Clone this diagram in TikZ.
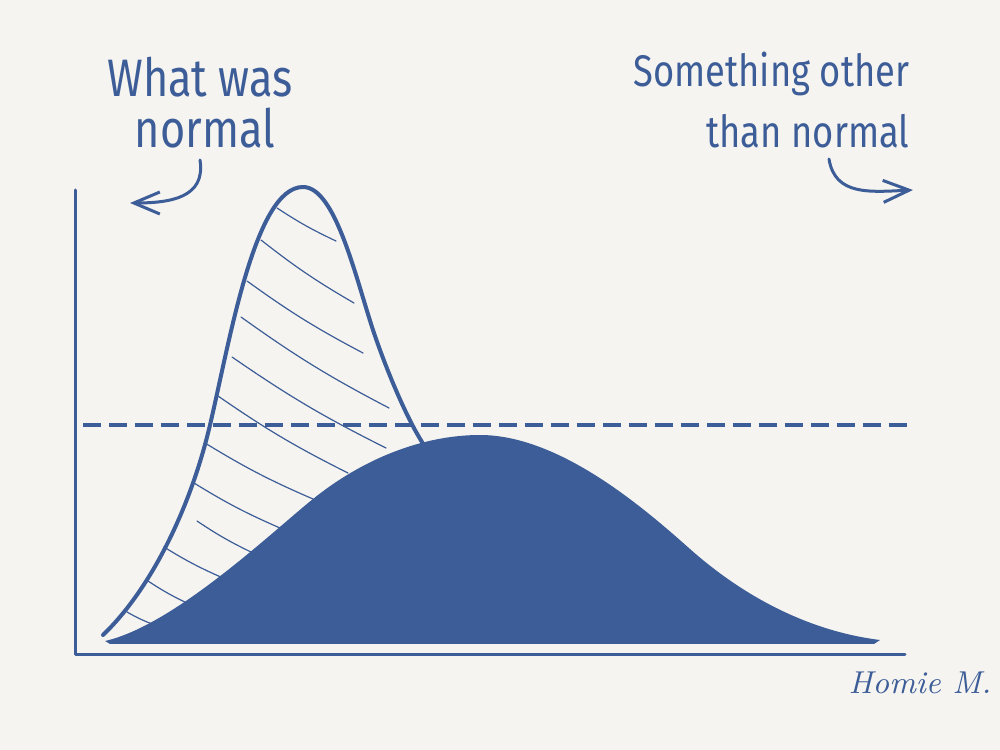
\documentclass[tikz,border=0pt]{standalone}
\usepackage{fontspec}
\usepackage{tikz}
\usetikzlibrary{arrows.meta}
\newfontfamily\handfont[FakeStretch=0.82]{Fira Sans}
\definecolor{Ink}{HTML}{3D5D98}
\definecolor{Paper}{HTML}{F5F4F0}

\begin{document}
\begin{tikzpicture}[x=0.1mm,y=-0.1mm,
    ink/.style={draw=Ink,line cap=round,line join=round},
    curly/.style={ink,line width=0.3mm,-{Straight Barb[length=2.6mm,width=2.2mm]}},
    hand/.style={text=Ink,inner sep=0pt,anchor=base}]
  \useasboundingbox (0,0) rectangle (1000,750);
  \fill[Paper] (0,0) rectangle (1000,750);

  % axes and the old level
  \draw[ink,line width=0.3mm] (75,190) -- (75,655) -- (905,655);
  \draw[Ink,line width=0.4mm,dash pattern=on 1.8mm off 0.8mm] (83,425) -- (913,425);

  % the new, flat curve
  \fill[Ink] (105,641) .. controls (175,625) and (273,531) .. (313,499)
    .. controls (360,461) and (420,435) .. (480,435)
    .. controls (560,435) and (645,509) .. (690,549)
    .. controls (735,589) and (800,630) .. (880,640)
    -- (874,644) -- (110,644) -- cycle;

  % the old, narrow curve
  \draw[ink,line width=0.4mm] (103,635) .. controls (150,590) and (190,510) .. (210,425)
    .. controls (230,340) and (255,187) .. (303,187)
    .. controls (335,187) and (355,275) .. (373,330)
    .. controls (385,366) and (405,415) .. (422,442);
  \foreach \xa/\ya/\xb/\yb in {277/208/336/241, 261/240/354/303, 247/281/363/353,
      241/317/389/408, 232/357/386/448, 218/396/348/473, 205/443/313/499,
      194/483/280/528, 197/521/253/553, 164/547/223/578, 148/581/189/604,
      127/612/152/624}
    \draw[ink,line width=0.12mm] (\xa,\ya) to[bend right=4] (\xb,\yb);

  % labels
  \node[hand,font=\handfont\fontsize{15}{18}\selectfont] (was1) at (200,97) {What was};
  \node[hand,font=\handfont\fontsize{15}{18}\selectfont] (was2) at (205,148) {normal};
  \node[hand,anchor=base east,font=\handfont\fontsize{12.6}{16}\selectfont] (other1) at (910,87) {Something other};
  \node[hand,anchor=base east,font=\handfont\fontsize{12.6}{16}\selectfont] (other2) at (910,148) {than normal};
  \node[hand,font=\fontsize{9}{10}\selectfont\itshape] (sign) at (920,693) {Homie M.};

  % arrows
  \coordinate (wasfrom) at (200,160);
  \coordinate (wasto) at (130,203);
  \coordinate (otherfrom) at (829,159);
  \coordinate (otherto) at (913,190);
  \draw[curly] (wasfrom) .. controls (206,198) and (170,203) .. (wasto);
  \draw[curly] (otherfrom) .. controls (835,196) and (870,192) .. (otherto);
\end{tikzpicture}
\end{document}
